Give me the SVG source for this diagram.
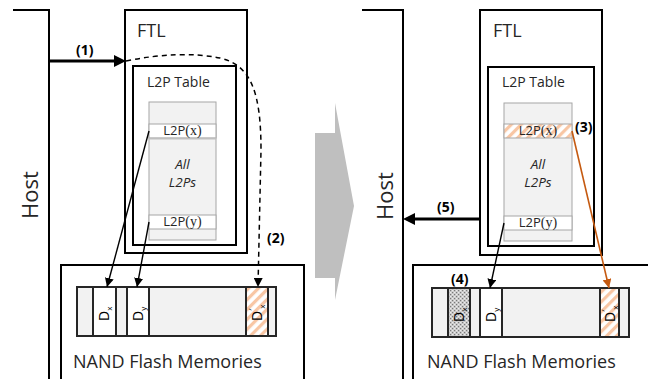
<svg xmlns="http://www.w3.org/2000/svg" width="648" height="379" viewBox="0 0 648 379">
<style>
text{font-family:"Open Sans","Noto Sans","Liberation Sans",sans-serif;fill:#262626}
.box{fill:#fff;stroke:#000;stroke-width:2}
.tbl{fill:#f2f2f2;stroke:#a6a6a6;stroke-width:1}
.row{stroke:#a6a6a6;stroke-width:1}
.strip{fill:#f2f2f2;stroke:#262626;stroke-width:2}
.cell{stroke:#262626;stroke-width:2}
.lbl{font-size:14px;font-weight:bold;fill:#000}
.big{font-size:18px}
.host{font-size:22px}
.mid{font-size:14px}
.ital{font-size:13.5px;font-style:italic;text-anchor:middle}
.dl{font-size:14px;fill:#000}
.sub{font-size:8px}
.thin{stroke:#000;stroke-width:1.4;fill:none}
</style>
<defs>
<marker id="ah" viewBox="0 0 10 10" refX="10" refY="5" markerWidth="9" markerHeight="9" markerUnits="userSpaceOnUse" orient="auto"><path d="M0,0 L10,5 L0,10 z" fill="#000"/></marker>
<marker id="ahOr" viewBox="0 0 10 10" refX="10" refY="5" markerWidth="9" markerHeight="9" markerUnits="userSpaceOnUse" orient="auto"><path d="M0,0 L10,5 L0,10 z" fill="#c55a11"/></marker>
<marker id="ahBig" viewBox="0 0 12 12" refX="0" refY="6" markerWidth="12" markerHeight="12" markerUnits="userSpaceOnUse" orient="auto"><path d="M0,0 L12,6 L0,12 z" fill="#000"/></marker>
<pattern id="hatch" width="7" height="7" patternUnits="userSpaceOnUse" patternTransform="rotate(45)"><rect width="7" height="7" fill="#fff"/><rect width="3.2" height="7" fill="#f8c6a4"/></pattern>
<pattern id="dots" width="4" height="4" patternUnits="userSpaceOnUse"><rect width="4" height="4" fill="#cfcfcf"/><rect x="0" y="0" width="1.2" height="1.2" fill="#7a7a7a"/><rect x="2" y="2" width="1.2" height="1.2" fill="#7a7a7a"/><rect x="2" y="0" width="1" height="1" fill="#ececec"/><rect x="0" y="2" width="1" height="1" fill="#ececec"/></pattern>
</defs>

<!-- big transition arrow -->
<polygon points="315,133 335,133 335,103 354,206 335,300 335,278 315,278" fill="#bfbfbf"/>

<!-- LEFT PANEL -->
<g id="host-left">
<path d="M13,10 L49,10 L49,380" fill="none" stroke="#000" stroke-width="2"/>
<text class="host" transform="translate(38,195) rotate(-90)" text-anchor="middle">Host</text>
</g>
<g id="ftl-left">
<rect class="box" x="125" y="10" width="122" height="243"/>
<text class="big" x="137" y="37">FTL</text>
</g>
<g id="l2p-left">
<rect class="box" x="133" y="66" width="103" height="179" stroke-width="2.5"/>
<text class="mid" x="147" y="87">L2P Table</text>
<rect class="tbl" x="149" y="102" width="67" height="138"/>
<rect class="row" x="149" y="124" width="67" height="14" style="fill:#fff"/>
<line x1="149" y1="138.5" x2="216" y2="138.5" stroke="#bfbfbf" stroke-width="2"/>
<text x="182.5" y="135" font-size="13" text-anchor="middle">L2P<tspan font-family="Liberation Serif,serif" font-size="14">(x)</tspan></text>
<text class="ital" x="182.5" y="169">All</text>
<text class="ital" x="182.5" y="187">L2Ps</text>
<rect class="row" x="149" y="215" width="67" height="14" style="fill:#fff"/>
<text x="182.5" y="226" font-size="13" text-anchor="middle">L2P<tspan font-family="Liberation Serif,serif" font-size="14">(y)</tspan></text>
</g>
<g id="nand-left">
<rect class="box" x="61" y="265" width="243" height="130"/>
<rect class="strip" x="77" y="287" width="199" height="49"/>
<rect class="cell" x="93" y="287" width="23" height="49" fill="#fff"/>
<rect class="cell" x="127" y="287" width="22" height="49" fill="#fff"/>
<rect class="cell" x="246" y="287" width="22" height="49" fill="url(#hatch)"/>
<text class="dl" transform="translate(109,321) rotate(-90)">D<tspan class="sub" dy="3">x</tspan></text>
<text class="dl" transform="translate(142.5,321) rotate(-90)">D<tspan class="sub" dy="3">y</tspan></text>
<text class="dl" transform="translate(262,321) rotate(-90)">D<tspan font-size="9" dy="-6">′</tspan><tspan class="sub" dy="9">x</tspan></text>
<text x="73" y="368" font-size="18">NAND Flash Memories</text>
</g>

<!-- RIGHT PANEL -->
<g id="host-right">
<path d="M362,10 L403,10 L403,380" fill="none" stroke="#000" stroke-width="2"/>
<text class="host" transform="translate(393,196) rotate(-90)" text-anchor="middle">Host</text>
</g>
<g id="ftl-right">
<rect class="box" x="480" y="10" width="122" height="245"/>
<text class="big" x="493" y="37">FTL</text>
</g>
<g id="l2p-right">
<rect class="box" x="488" y="67" width="106" height="179" stroke-width="2.5"/>
<text class="mid" x="502" y="87">L2P Table</text>
<rect class="tbl" x="504" y="103" width="68" height="138"/>
<rect class="row" x="504" y="124" width="68" height="14" style="fill:url(#hatch)"/>
<text x="538" y="135" font-size="13" text-anchor="middle">L2P<tspan font-family="Liberation Serif,serif" font-size="14">(x)</tspan></text>
<text class="ital" x="538" y="169">All</text>
<text class="ital" x="538" y="187">L2Ps</text>
<rect class="row" x="504" y="216" width="68" height="14" style="fill:#fff"/>
<text x="538" y="227" font-size="13" text-anchor="middle">L2P<tspan font-family="Liberation Serif,serif" font-size="14">(y)</tspan></text>
</g>
<g id="nand-right">
<rect class="box" x="413" y="265" width="245" height="130"/>
<rect class="strip" x="432" y="288" width="197" height="49"/>
<rect class="cell" x="448" y="288" width="22" height="49" fill="url(#dots)"/>
<rect class="cell" x="480" y="288" width="22" height="49" fill="#fff"/>
<rect class="cell" x="600" y="288" width="19" height="49" fill="url(#hatch)"/>
<text class="dl" transform="translate(463.5,322) rotate(-90)">D<tspan class="sub" dy="3">x</tspan></text>
<text class="dl" transform="translate(495.5,322) rotate(-90)">D<tspan class="sub" dy="3">y</tspan></text>
<text class="dl" transform="translate(614.5,322) rotate(-90)">D<tspan font-size="9" dy="-6">′</tspan><tspan class="sub" dy="9">x</tspan></text>
<text x="427" y="368" font-size="18">NAND Flash Memories</text>
</g>

<!-- CONNECTORS -->
<g id="connectors">
<path d="M49,61 L114,61" stroke="#000" stroke-width="3.2" fill="none" marker-end="url(#ahBig)"/>
<path d="M126,61 Q180,50 220,58 C250,65 261,90 261,150 L258,287" stroke="#000" stroke-width="1.5" fill="none" stroke-dasharray="5,4" marker-end="url(#ah)"/>
<path class="thin" d="M149,131 L107,287" marker-end="url(#ah)"/>
<path class="thin" d="M149,222 L137,287" marker-end="url(#ah)"/>
<path d="M480,219 L415,219" stroke="#000" stroke-width="3.2" fill="none" marker-end="url(#ahBig)"/>
<path class="thin" d="M504,223 L490,288" marker-end="url(#ah)"/>
<path d="M572,131 L609,288" stroke="#c55a11" stroke-width="1.6" fill="none" marker-end="url(#ahOr)"/>
</g>

<g id="labels">
<text class="lbl" x="76" y="55">(1)</text>
<text class="lbl" x="267" y="243">(2)</text>
<text class="lbl" x="575" y="132">(3)</text>
<text class="lbl" x="451" y="284">(4)</text>
<text class="lbl" x="437" y="212">(5)</text>
</g>
</svg>
